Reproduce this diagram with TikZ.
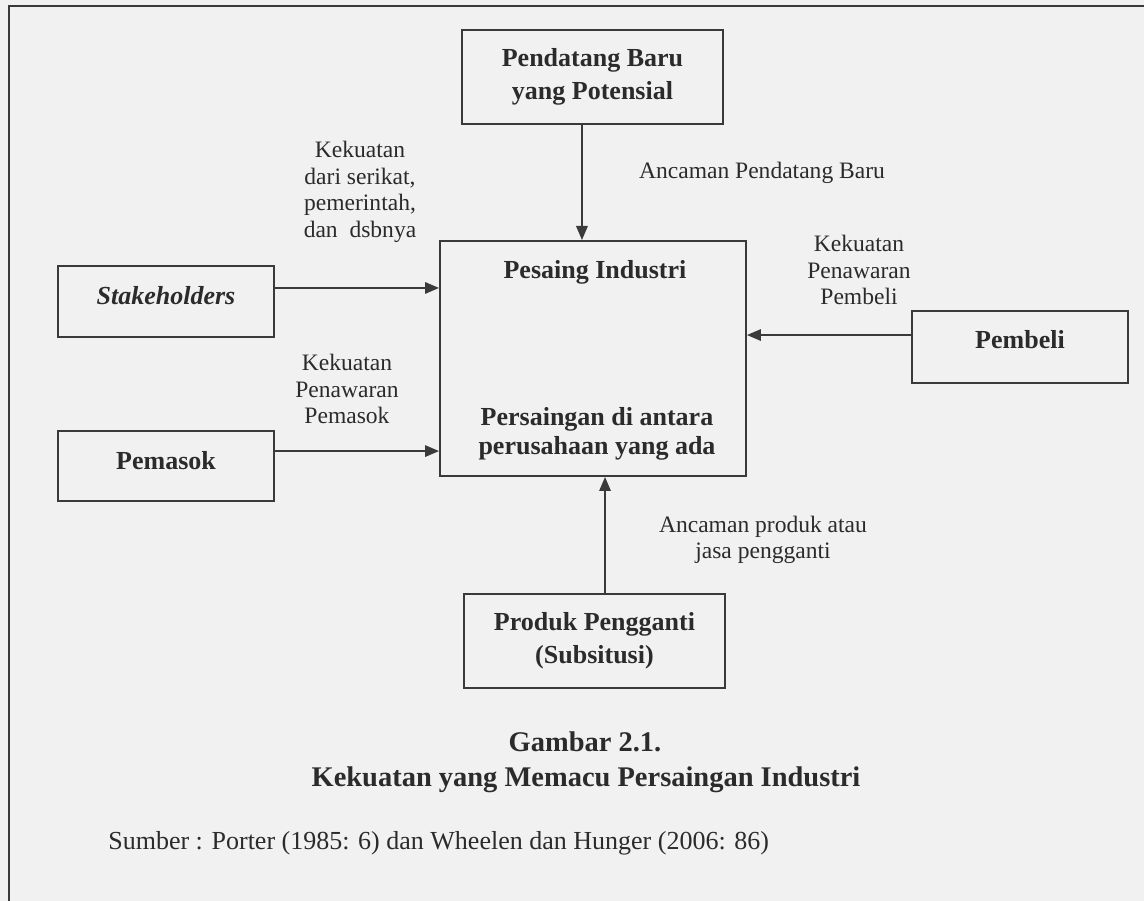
\documentclass[tikz,border=0pt]{standalone}
\usepackage{fontspec}
\setmainfont{Liberation Serif}
\usetikzlibrary{arrows.meta}
\definecolor{paper}{HTML}{F1F1F1}
\definecolor{ink}{HTML}{2B2B2B}
\definecolor{linegray}{HTML}{3A3A3A}

\begin{document}
\begin{tikzpicture}[x=0.02cm, y=-0.02cm,
    force/.style={draw=linegray, line width=1.1pt, text=ink, align=center, inner sep=0pt,
        font=\bfseries\fontsize{14.8}{18.5}\selectfont},
    boldtext/.style={text=ink, align=center, inner sep=0pt, font=\bfseries\fontsize{14.8}{16.8}\selectfont},
    lbl/.style={text=ink, align=center, inner sep=0pt, font=\fontsize{13.4}{15.2}\selectfont},
    forcearrow/.style={-{Triangle[length=8pt,width=6.5pt]}, color=linegray, line width=1.1pt}]
    \path[use as bounding box, fill=paper] (0,0) rectangle (1144,901);
    \draw[linegray, line width=1.2pt] (9,901) -- (9,6) -- (1144,6);

    % the five forces
    \node[force, minimum width=5.22cm, minimum height=1.88cm] (pend) at (592.5,77) {Pendatang Baru\\yang Potensial};
    \node[force, minimum width=6.12cm, minimum height=4.7cm] (pesaing) at (593,358.5) {};
    \node[force, minimum width=4.32cm, minimum height=1.42cm, text depth=6.8pt] (stake) at (166,301.5) {\textit{Stakeholders}};
    \node[force, minimum width=4.32cm, minimum height=1.4cm, text depth=6.8pt] (pemasok) at (166,466) {Pemasok};
    \node[force, minimum width=4.32cm, minimum height=1.44cm, text depth=8pt] (pembeli) at (1020,347) {Pembeli};
    \node[force, minimum width=5.22cm, minimum height=1.88cm] (produk) at (594.5,641) {Produk Pengganti\\(Subsitusi)};

    \node[boldtext] (pesaingtitle) at (595,272) {Pesaing Industri};
    \node[boldtext] (rivalry) at (597,434) {Persaingan di antara\\perusahaan yang ada};

    \coordinate (pendout) at ([xshift=-6pt]pend.south);
    \coordinate (produkout) at ([xshift=6pt]produk.north);
    \coordinate (stakeout) at ([yshift=7.7pt]stake.east);
    \coordinate (pemasokout) at ([yshift=8.5pt]pemasok.east);
    \coordinate (pembeliout) at ([yshift=6.8pt]pembeli.west);
    \path[forcearrow]
        (pendout) edge (pendout |- pesaing.north)
        (stakeout) edge (stakeout -| pesaing.west)
        (pemasokout) edge (pemasokout -| pesaing.west)
        (pembeliout) edge (pembeliout -| pesaing.east)
        (produkout) edge (produkout |- pesaing.south);

    % labels of the arrows
    \node[lbl] (entrylbl) at (762,173) {Ancaman Pendatang Baru};
    \node[lbl] (stakelbl) at (360,192) {Kekuatan\\dari serikat,\\pemerintah,\\dan\ \ dsbnya};
    \node[lbl] (pemasoklbl) at (347,389) {Kekuatan\\Penawaran\\Pemasok};
    \node[lbl] (pembelilbl) at (859,270) {Kekuatan\\Penawaran\\Pembeli};
    \node[lbl] (produklbl) at (763,540) {Ancaman produk atau\\jasa pengganti};

    % caption
    \node[boldtext, font=\bfseries\fontsize{16.2}{19}\selectfont] (figno) at (585,742) {Gambar 2.1.};
    \node[boldtext, font=\bfseries\fontsize{16.2}{19}\selectfont] (figtitle) at (586,780) {Kekuatan yang Memacu Persaingan Industri};
    \node[lbl, anchor=west, font=\fontsize{14.8}{17}\selectfont] (source) at (108,843) {Sumber : Porter (1985: 6) dan Wheelen dan Hunger (2006: 86)};
\end{tikzpicture}
\end{document}
